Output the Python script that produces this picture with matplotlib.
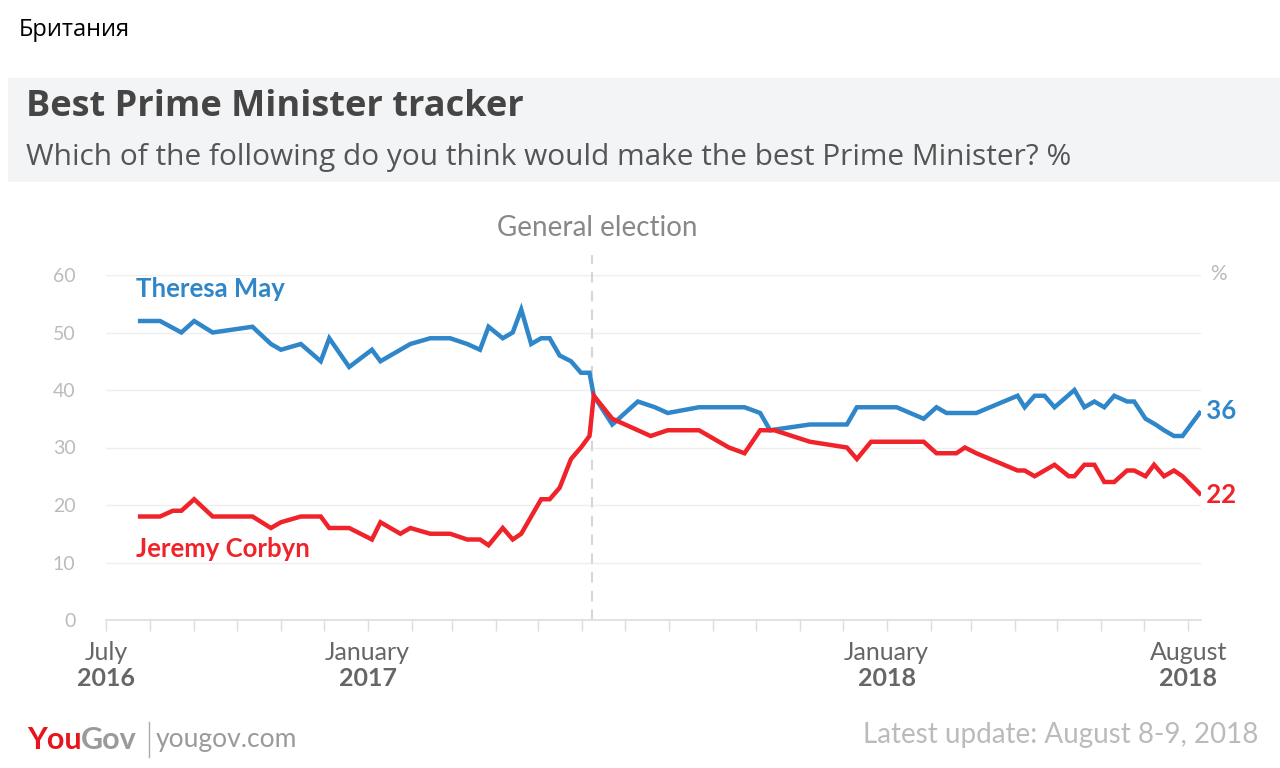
import datetime as dt
import matplotlib
matplotlib.use("Agg")
import matplotlib.pyplot as plt
import matplotlib.dates as mdates
import matplotlib.transforms as mtransforms
from matplotlib.patches import Rectangle

# --- Data ---
may_dates = [
    "2016-07-25", "2016-08-08", "2016-08-23", "2016-09-01", "2016-09-14",
    "2016-10-12", "2016-10-25", "2016-11-01", "2016-11-15", "2016-11-29",
    "2016-12-05", "2016-12-19", "2017-01-04", "2017-01-10", "2017-01-31",
    "2017-02-14", "2017-02-28", "2017-03-12", "2017-03-21", "2017-03-27",
    "2017-04-06", "2017-04-13", "2017-04-19", "2017-04-26", "2017-05-03",
    "2017-05-09", "2017-05-16", "2017-05-24", "2017-05-31", "2017-06-06",
    "2017-06-09", "2017-06-22", "2017-07-10", "2017-07-22", "2017-07-31",
    "2017-08-22", "2017-09-23", "2017-10-04", "2017-10-11", "2017-11-08",
    "2017-12-04", "2017-12-11", "2018-01-08", "2018-01-27", "2018-02-05",
    "2018-02-12", "2018-03-05", "2018-04-03", "2018-04-08", "2018-04-15",
    "2018-04-22", "2018-04-29", "2018-05-13", "2018-05-20", "2018-05-27",
    "2018-06-03", "2018-06-10", "2018-06-19", "2018-06-24", "2018-07-02",
    "2018-07-09", "2018-07-15", "2018-07-22", "2018-07-28", "2018-08-09",
]
may_values = [
    52, 52, 50, 52, 50,
    51, 48, 47, 48, 45,
    49, 44, 47, 45, 48,
    49, 49, 48, 47, 51,
    49, 50, 54, 48, 49,
    49, 46, 45, 43, 43,
    39, 34, 38, 37, 36,
    37, 37, 36, 33, 34,
    34, 37, 37, 35, 37,
    36, 36, 39, 37, 39,
    39, 37, 40, 37, 38,
    37, 39, 38, 38, 35,
    34, 33, 32, 32, 36,
]

corbyn_dates = [
    "2016-07-25", "2016-08-08", "2016-08-17", "2016-08-23", "2016-09-01",
    "2016-09-14", "2016-10-12", "2016-10-25", "2016-11-01", "2016-11-15",
    "2016-11-29", "2016-12-05", "2016-12-19", "2017-01-04", "2017-01-10",
    "2017-01-24", "2017-01-31", "2017-02-14", "2017-02-28", "2017-03-12",
    "2017-03-21", "2017-03-27", "2017-04-06", "2017-04-13", "2017-04-19",
    "2017-05-03", "2017-05-09", "2017-05-16", "2017-05-24", "2017-05-31",
    "2017-06-06", "2017-06-09", "2017-06-22", "2017-07-19", "2017-07-31",
    "2017-08-22", "2017-08-29", "2017-09-12", "2017-09-23", "2017-10-04",
    "2017-10-14", "2017-11-08", "2017-12-04", "2017-12-11", "2017-12-21",
    "2018-01-27", "2018-02-05", "2018-02-19", "2018-02-25", "2018-03-05",
    "2018-04-03", "2018-04-08", "2018-04-15", "2018-04-29", "2018-05-09",
    "2018-05-13", "2018-05-20", "2018-05-27", "2018-06-03", "2018-06-10",
    "2018-06-19", "2018-06-24", "2018-07-02", "2018-07-08", "2018-07-15",
    "2018-07-22", "2018-07-28", "2018-08-09",
]
corbyn_values = [
    18, 18, 19, 19, 21,
    18, 18, 16, 17, 18,
    18, 16, 16, 14, 17,
    15, 16, 15, 15, 14,
    14, 13, 16, 14, 15,
    21, 21, 23, 28, 30,
    32, 39, 35, 32, 33,
    33, 32, 30, 29, 33,
    33, 31, 30, 28, 31,
    31, 29, 29, 30, 29,
    26, 26, 25, 27, 25,
    25, 27, 27, 24, 24,
    26, 26, 25, 27, 25,
    26, 25, 22,
]

y_ticks = [0, 10, 20, 30, 40, 50, 60]
x_labels = [("2016-07-01", "July", "2016"), ("2017-01-01", "January", "2017"),
            ("2018-01-01", "January", "2018"), ("2018-08-01", "August", "2018")]
election_date = "2017-06-08"

# --- Style ---
BLUE = "#2f86c9"
RED = "#ef2329"
FONT = "Lato"
HEAD_FONT = "Open Sans"
W, H = 1280, 768


def fx(px):
    return px / W


def fy(py):
    return 1 - py / H


def to_date(s):
    return dt.datetime.strptime(s, "%Y-%m-%d")


fig = plt.figure(figsize=(12.8, 7.68), dpi=100)
fig.patch.set_facecolor("white")

fig.text(fx(19), fy(30), "Британия", fontsize=17, family=["Open Sans", "DejaVu Sans"],
         color="black", va="center", ha="left")

# header banner
fig.patches.append(Rectangle((fx(8), fy(182)), fx(1272), (182 - 78) / H,
                             transform=fig.transFigure, facecolor="#f3f4f5",
                             edgecolor="none", zorder=0))
fig.text(fx(26), fy(107), "Best Prime Minister tracker", fontsize=26, fontweight="bold",
         family=HEAD_FONT, color="#454545", va="center", ha="left")
fig.text(fx(26), fy(158), "Which of the following do you think would make the best Prime Minister? %",
         fontsize=21.5, family=HEAD_FONT, color="#555555", va="center", ha="left")

# --- Chart ---
ax = fig.add_axes([fx(106), fy(620), fx(1201 - 106), (620 - 275) / H])
ax.set_ylim(0, 60)
ax.set_xlim(to_date("2016-07-01"), to_date("2018-08-10"))

for s in ["top", "right", "left"]:
    ax.spines[s].set_visible(False)
ax.spines["bottom"].set_color("#dddddd")
ax.spines["bottom"].set_linewidth(1.2)

ax.set_yticks(y_ticks)
ax.set_yticklabels([str(v) for v in y_ticks], family=FONT, fontsize=14, color="#bbbbbb")
ax.tick_params(axis="y", length=0, pad=22)
for v in y_ticks[1:]:
    ax.axhline(v, color="#eeeeee", lw=1, zorder=0)

ax.xaxis.set_major_locator(mdates.MonthLocator())
ax.xaxis.set_major_formatter(plt.NullFormatter())
ax.tick_params(axis="x", length=8, color="#dddddd", width=1)

ax.plot([to_date(d) for d in may_dates], may_values, color=BLUE, lw=3.2,
        solid_joinstyle="miter", zorder=3)
ax.plot([to_date(d) for d in corbyn_dates], corbyn_values, color=RED, lw=3.2,
        solid_joinstyle="miter", zorder=3)

# election marker
ed = to_date(election_date)
ax.plot([ed, ed], [0, 63.5], color="#d6d6d6", lw=1.5, ls=(0, (5, 4)), clip_on=False, zorder=1)
fig.text(fx(597), fy(228), "General election", fontsize=20, family=FONT, color="#888888",
         ha="center", va="center")
fig.text(fx(1218), fy(274), "%", fontsize=15, family=FONT, color="#bbbbbb",
         ha="center", va="center")

# series labels
ax.text(to_date("2016-07-22"), 57.5, "Theresa May", fontsize=18.5, fontweight="bold",
        family=FONT, color=BLUE, ha="left", va="center")
ax.text(to_date("2016-07-22"), 12.3, "Jeremy Corbyn", fontsize=18.5, fontweight="bold",
        family=FONT, color=RED, ha="left", va="center")
ax.text(to_date(may_dates[-1]), may_values[-1] + 0.3, " " + str(may_values[-1]), fontsize=18.5,
        fontweight="bold", family=FONT, color=BLUE, ha="left", va="center", clip_on=False)
ax.text(to_date(corbyn_dates[-1]), corbyn_values[-1] - 0.3, " " + str(corbyn_values[-1]), fontsize=18.5,
        fontweight="bold", family=FONT, color=RED, ha="left", va="center", clip_on=False)

# x labels: month regular, year bold
trans = mtransforms.blended_transform_factory(ax.transData, ax.transAxes)
for d, month, year in x_labels:
    xd = to_date(d)
    ax.text(xd, -0.093, month, transform=trans, fontsize=18, family=FONT, color="#666666",
            ha="center", va="center")
    ax.text(xd, -0.17, year, transform=trans, fontsize=18, fontweight="bold", family=FONT,
            color="#666666", ha="center", va="center")

# --- Footer ---
renderer = fig.canvas.get_renderer()
you = fig.text(fx(27), fy(740), "You", fontsize=22, fontweight="bold", family=FONT,
               color="#e8141b", ha="left", va="center")
you_right = you.get_window_extent(renderer).x1
fig.text(you_right / W - 0.0005, fy(740), "Gov", fontsize=22, fontweight="bold", family=FONT,
         color="#9a9a9a", ha="left", va="center")
fig.lines.append(plt.Line2D([fx(149), fx(149)], [fy(722), fy(757)], transform=fig.transFigure,
                            color="#aaaaaa", lw=1))
fig.text(fx(156), fy(740), "yougov.com", fontsize=19, family=FONT, color="#9a9a9a",
         ha="left", va="center")
fig.text(fx(1258), fy(735), "Latest update: August 8-9, 2018", fontsize=20, family=FONT,
         color="#bbbbbb", ha="right", va="center")

fig.savefig("out.png", dpi=100)
